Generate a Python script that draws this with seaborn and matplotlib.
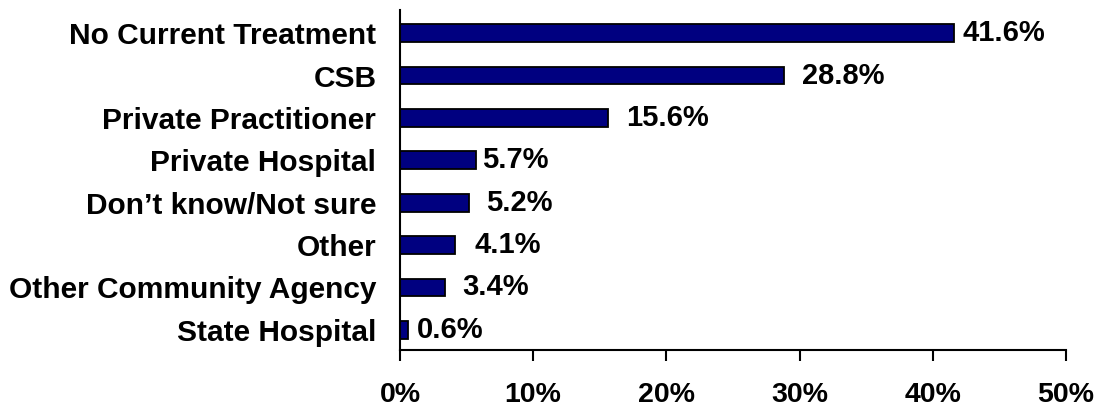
import pandas as pd
import matplotlib.pyplot as plt
import seaborn as sns
from matplotlib.ticker import FuncFormatter

categories = ["No Current Treatment", "CSB", "Private Practitioner", "Private Hospital",
              "Don\u2019t know/Not sure", "Other", "Other Community Agency", "State Hospital"]
percent = [41.6, 28.8, 15.6, 5.7, 5.2, 4.1, 3.4, 0.6]
# gap (points) between bar end and its label, as placed in the original
label_gap = [6, 13, 13, 4.5, 12, 14, 12.5, 6.5]

df = pd.DataFrame({"category": categories, "percent": percent})

sns.set_style("ticks")
plt.rcParams["font.family"] = ["Liberation Sans", "DejaVu Sans"]
plt.rcParams["font.weight"] = "bold"
plt.rcParams["text.color"] = "black"
plt.rcParams["xtick.color"] = "black"
plt.rcParams["ytick.color"] = "black"

fig = plt.figure(figsize=(11, 4.12), dpi=100)
ax = fig.add_axes([0.3636, 0.150, 0.6055, 0.826])

sns.barplot(data=df, x="percent", y="category", orient="h", color="#000080",
            saturation=1, width=0.42, edgecolor="black", linewidth=1.3, ax=ax)

for i, v in enumerate(percent):
    ax.annotate(f"{v:.1f}%", xy=(v, i), xytext=(label_gap[i], 0),
                textcoords="offset points", va="center", ha="left",
                fontsize=21, fontweight="bold", color="black")

ax.set_xlim(0, 50)
ax.set_ylim(7.48, -0.55)
ax.set_xticks([0, 10, 20, 30, 40, 50])
ax.xaxis.set_major_formatter(FuncFormatter(lambda x, p: f"{x:.0f}%"))
ax.set_xlabel("")
ax.set_ylabel("")

sns.despine(ax=ax)
for s in ["left", "bottom"]:
    ax.spines[s].set_color("black")
    ax.spines[s].set_linewidth(1.5)

ax.tick_params(axis="x", bottom=True, direction="out", length=8, width=1.5,
               color="black", labelsize=20.5, pad=15)
ax.tick_params(axis="y", left=False, length=0, labelsize=21.5, pad=17)
for lab in ax.get_xticklabels() + ax.get_yticklabels():
    lab.set_fontweight("bold")
    lab.set_color("black")

plt.savefig("out.png", dpi=100)
